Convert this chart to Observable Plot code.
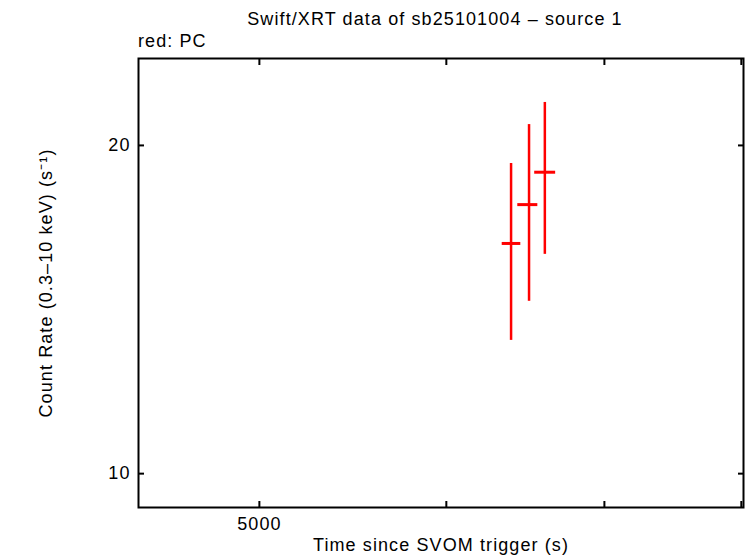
<!DOCTYPE html>
<html>
<head>
<meta charset="utf-8">
<script src="https://cdn.jsdelivr.net/npm/d3@7"></script>
<script src="https://cdn.jsdelivr.net/npm/@observablehq/plot@0.6"></script>
<style>
  html, body { margin: 0; padding: 0; background: #fff; }
  #wrap { position: relative; width: 746px; height: 558px; font-family: "Liberation Sans", Arial, sans-serif; letter-spacing: 1.1px; }
  #title { position: absolute; left: 130px; width: 610px; top: 9px; text-align: center; font-size: 18px; color: #000; }
  #sub { position: absolute; left: 138px; top: 31px; font-size: 18px; color: #000; }
  #chart { position: absolute; left: 0; top: 0; }
</style>
</head>
<body>
<div id="wrap">
  <div id="chart"></div>
  <div id="title">Swift/XRT data of sb25101004 – source 1</div>
  <div id="sub">red: PC</div>
</div>
<script>
const times = [6391, 6504, 6605];
const timeLo = [6336, 6433, 6540];
const timeHi = [6452, 6560, 6675];
const rates = [16.26, 17.65, 18.9];
const rateLo = [13.25, 14.39, 15.89];
const rateHi = [19.25, 20.9, 21.9];
const xTicks = [5000, 6000, 7000, 8000];
const xTickLabels = {5000: "5000"};
const yTicks = [10, 20];
const xDomain = [4444, 8017];
const yDomain = [9.31, 24.03];
const xLabel = "Time since SVOM trigger (s)";
const yLabel = "Count Rate (0.3–10 keV) (s⁻¹)";

const data = times.map((t, i) => ({t, tlo: timeLo[i], thi: timeHi[i], r: rates[i], rlo: rateLo[i], rhi: rateHi[i]}));

const chart = Plot.plot({
  width: 746,
  height: 558,
  marginLeft: 138,
  marginRight: 3,
  marginTop: 58,
  marginBottom: 51,
  style: {fontFamily: "'Liberation Sans', Arial, sans-serif", fontSize: "18px", color: "#000", background: "#fff", letterSpacing: "1.1px"},
  x: {type: "log", domain: xDomain},
  y: {type: "log", domain: yDomain},
  marks: [
    Plot.axisX(xTicks, {anchor: "bottom", tickSize: -6, tickPadding: 16, strokeWidth: 2, tickFormat: d => xTickLabels[d] ?? "", label: null}),
    Plot.axisX(xTicks, {anchor: "top", tickSize: -6, strokeWidth: 2, tickFormat: () => "", label: null}),
    Plot.axisY(yTicks, {anchor: "left", tickSize: -6, tickPadding: 14, strokeWidth: 2, tickFormat: d => String(d), label: null}),
    Plot.axisY(yTicks, {anchor: "right", tickSize: -6, strokeWidth: 2, tickFormat: () => "", label: null}),
    Plot.frame({stroke: "#000", strokeWidth: 2}),
    Plot.ruleX(data, {x: "t", y1: "rlo", y2: "rhi", stroke: "#ff0000", strokeWidth: 2.5}),
    Plot.ruleY(data, {y: "r", x1: "tlo", x2: "thi", stroke: "#ff0000", strokeWidth: 3}),
    Plot.text([xLabel], {text: d => d, frameAnchor: "bottom", dy: 43, fontSize: 18, fill: "#000"}),
    Plot.text([yLabel], {text: d => d, frameAnchor: "left", textAnchor: "middle", dx: -92, rotate: -90, fontSize: 18, fill: "#000"})
  ]
});
document.getElementById("chart").appendChild(chart);
</script>
</body>
</html>
